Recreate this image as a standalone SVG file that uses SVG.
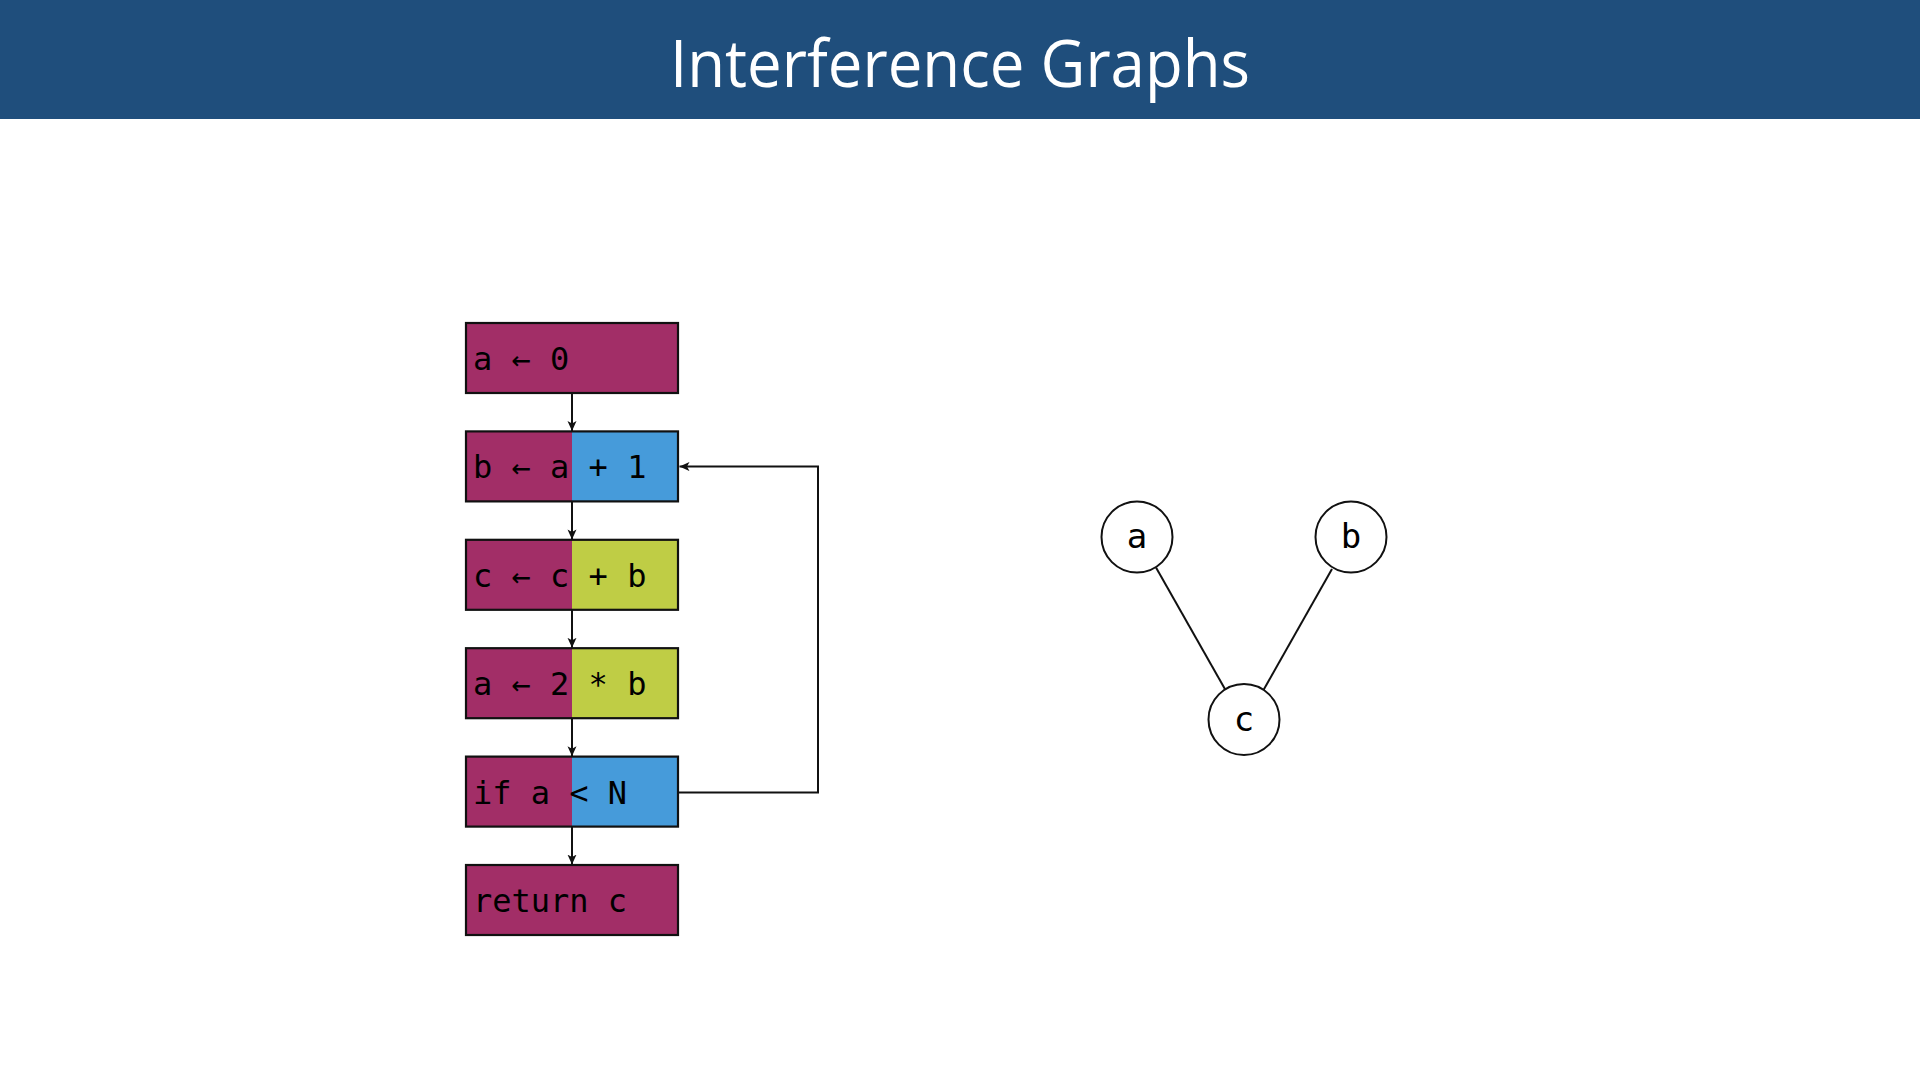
<svg xmlns="http://www.w3.org/2000/svg" width="1920" height="1080" viewBox="0 0 1920 1080">
  <style>
    .title { font-family: "Open Sans", "Noto Sans", sans-serif; font-size: 66px; fill: #ffffff; }
    .code { font-family: "DejaVu Sans Mono", "Liberation Mono", monospace; font-size: 32px; fill: #000000; }
    .var { font-family: "DejaVu Sans Mono", "Liberation Mono", monospace; font-size: 34px; fill: #000000; text-anchor: middle; }
    .live { fill: #A22E67; }
    .blue { fill: #469BDA; }
    .green { fill: #BFCD45; }
    .frame { fill: none; stroke: #111111; stroke-width: 2.2; }
    .flow { fill: none; stroke: #111111; stroke-width: 2; }
    .edge { stroke: #111111; stroke-width: 2; }
    .vnode { fill: #ffffff; stroke: #111111; stroke-width: 2; }
  </style>
  <defs>
    <marker id="head" markerUnits="userSpaceOnUse" markerWidth="11" markerHeight="10" refX="10" refY="4.5" orient="auto">
      <path d="M0,0 L10,4.5 L0,9 L2.5,4.5 z" fill="#111111"/>
    </marker>
  </defs>

  <rect width="1920" height="1080" fill="#ffffff"/>

  <!-- header banner -->
  <rect x="0" y="0" width="1920" height="119" fill="#1F4E7C"/>
  <text class="title" x="960" y="87" text-anchor="middle" textLength="580" lengthAdjust="spacingAndGlyphs">Interference Graphs</text>

  <!-- control flow: statements -->
  <g id="s1">
    <rect class="live" x="466" y="323" width="212" height="70"/>
    <rect class="frame" x="466" y="323" width="212" height="70"/>
    <text class="code" x="473" y="370">a ← 0</text>
  </g>
  <g id="s2">
    <rect class="live" x="466" y="431.4" width="106" height="70"/>
    <rect class="blue" x="572" y="431.4" width="106" height="70"/>
    <rect class="frame" x="466" y="431.4" width="212" height="70"/>
    <text class="code" x="473" y="478.4">b ← a + 1</text>
  </g>
  <g id="s3">
    <rect class="live" x="466" y="539.8" width="106" height="70"/>
    <rect class="green" x="572" y="539.8" width="106" height="70"/>
    <rect class="frame" x="466" y="539.8" width="212" height="70"/>
    <text class="code" x="473" y="586.8">c ← c + b</text>
  </g>
  <g id="s4">
    <rect class="live" x="466" y="648.2" width="106" height="70"/>
    <rect class="green" x="572" y="648.2" width="106" height="70"/>
    <rect class="frame" x="466" y="648.2" width="212" height="70"/>
    <text class="code" x="473" y="695.2">a ← 2 * b</text>
  </g>
  <g id="s5">
    <rect class="live" x="466" y="756.6" width="106" height="70"/>
    <rect class="blue" x="572" y="756.6" width="106" height="70"/>
    <rect class="frame" x="466" y="756.6" width="212" height="70"/>
    <text class="code" x="473" y="803.6">if a &lt; N</text>
  </g>
  <g id="s6">
    <rect class="live" x="466" y="865" width="212" height="70"/>
    <rect class="frame" x="466" y="865" width="212" height="70"/>
    <text class="code" x="473" y="912">return c</text>
  </g>

  <!-- control flow: edges -->
  <g id="flow-edges">
    <line class="flow" x1="572" y1="393" x2="572" y2="431" marker-end="url(#head)"/>
    <line class="flow" x1="572" y1="501.4" x2="572" y2="539.4" marker-end="url(#head)"/>
    <line class="flow" x1="572" y1="609.8" x2="572" y2="647.8" marker-end="url(#head)"/>
    <line class="flow" x1="572" y1="718.2" x2="572" y2="756.2" marker-end="url(#head)"/>
    <line class="flow" x1="572" y1="826.6" x2="572" y2="864.6" marker-end="url(#head)"/>
    <path class="flow" d="M678,792.6 H818 V466.6 H679.5" marker-end="url(#head)"/>
  </g>

  <!-- interference graph: edges -->
  <g id="graph-edges">
    <line class="edge" x1="1156" y1="567.5" x2="1225.5" y2="690"/>
    <line class="edge" x1="1332" y1="569" x2="1263.5" y2="690"/>
  </g>

  <!-- interference graph: variables -->
  <g id="v-a">
    <circle class="vnode" cx="1137" cy="537" r="35.5"/>
    <text class="var" x="1137" y="548">a</text>
  </g>
  <g id="v-b">
    <circle class="vnode" cx="1351" cy="537" r="35.5"/>
    <text class="var" x="1351" y="548">b</text>
  </g>
  <g id="v-c">
    <circle class="vnode" cx="1244" cy="719.5" r="35.5"/>
    <text class="var" x="1244" y="730.5">c</text>
  </g>
</svg>
